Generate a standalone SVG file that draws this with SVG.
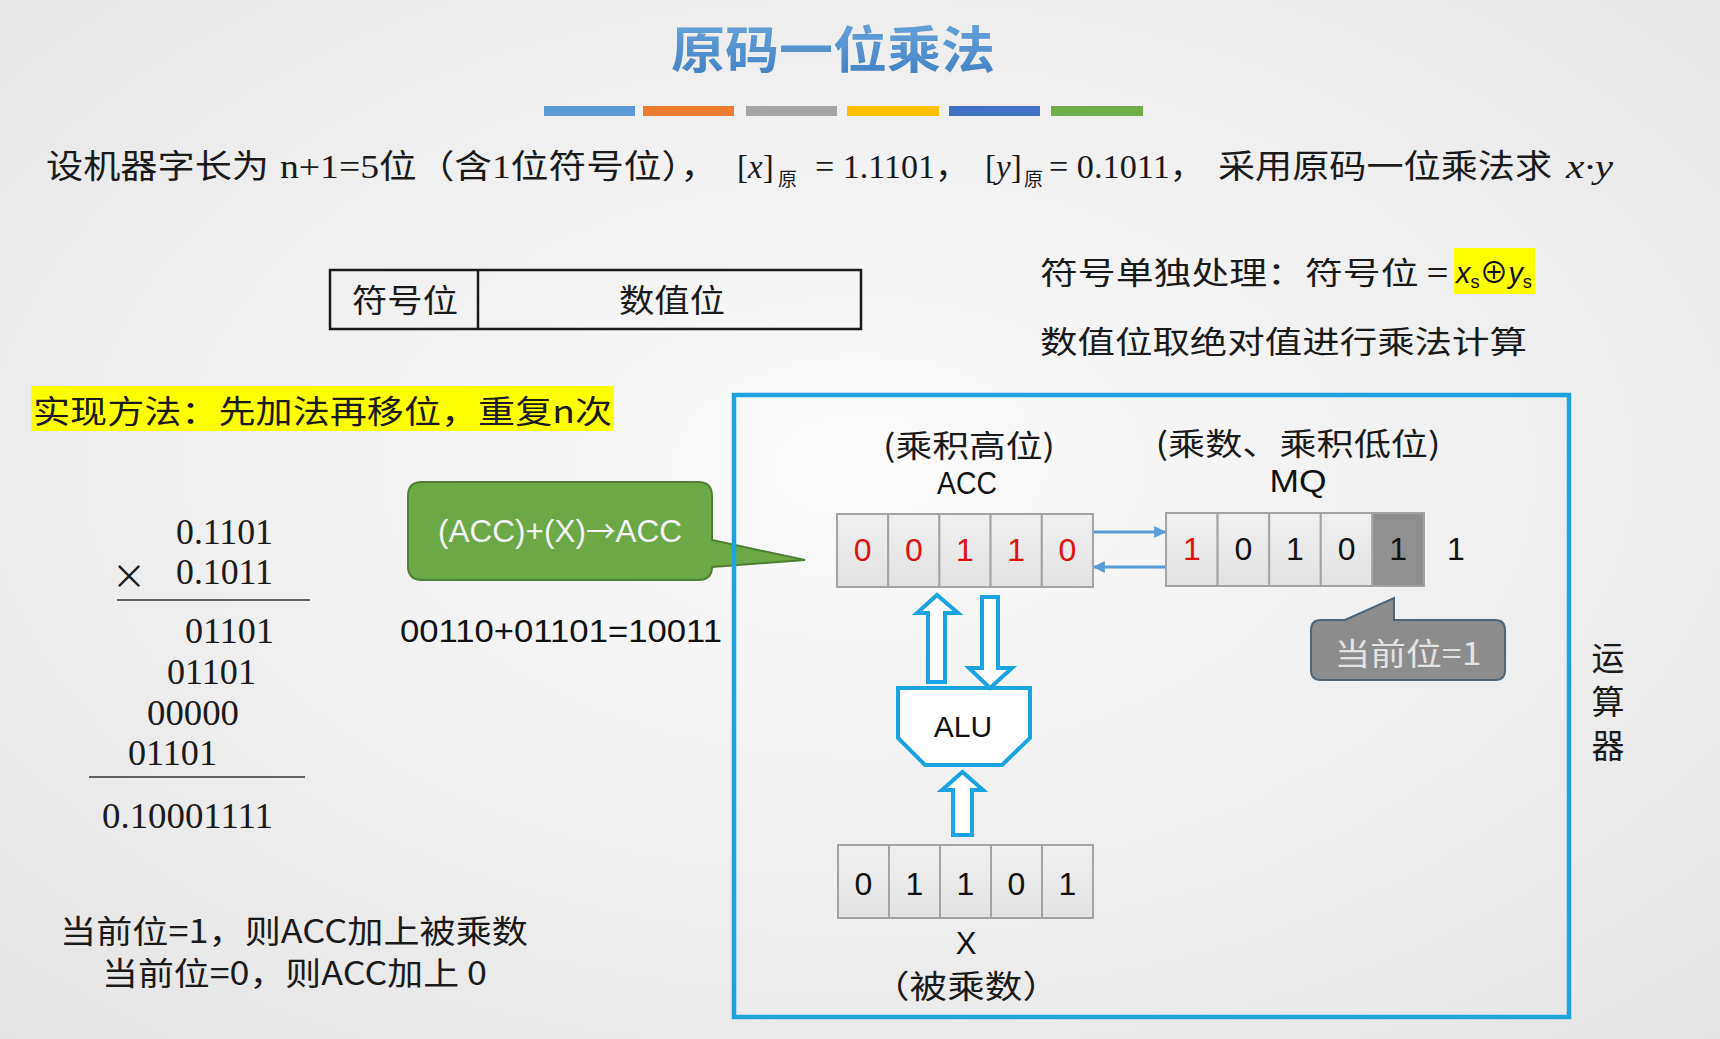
<svg xmlns="http://www.w3.org/2000/svg" width="1720" height="1039" viewBox="0 0 1720 1039">
<defs>
<radialGradient id="bg" cx="50%" cy="45%" r="75%">
<stop offset="0" stop-color="#fbfbfb"/>
<stop offset="1" stop-color="#e4e4e4"/>
</radialGradient>
<linearGradient id="titleg" x1="0" y1="0" x2="0" y2="1">
<stop offset="0" stop-color="#6ea9de"/>
<stop offset="1" stop-color="#3f7fc2"/>
</linearGradient>
<linearGradient id="cellg" x1="0" y1="0" x2="0" y2="1">
<stop offset="0" stop-color="#f0f0f0"/>
<stop offset="1" stop-color="#e2e2e2"/>
</linearGradient>
<marker id="ah" viewBox="0 0 10 10" refX="9" refY="5" markerWidth="4" markerHeight="4" orient="auto-start-reverse">
<path d="M0,0 L10,5 L0,10 Z" fill="#5b9bd5"/>
</marker>
<style>
.serif{font-family:"Liberation Serif","Noto Sans CJK SC",serif;fill:#1a1a1a}
.sans{font-family:"Liberation Sans","Noto Sans CJK SC",sans-serif;fill:#111}
.cjk{font-family:"Noto Sans CJK SC","Liberation Sans",sans-serif;fill:#1a1a1a}
.cell{fill:url(#cellg);stroke:#a3a3a3;stroke-width:2}
.dark{fill:#8f8f8f;stroke:#a3a3a3;stroke-width:2}
.dig{font-family:"Liberation Sans","Noto Sans CJK SC",sans-serif;font-size:32px;text-anchor:middle}
.red{fill:#e01010}
.blk{fill:#111}
.hollow{fill:#ffffff;stroke:#1aa3e0;stroke-width:4;stroke-linejoin:miter}
.conn{stroke:#5b9bd5;stroke-width:3;fill:none;marker-end:url(#ah)}
.rule{stroke:#333;stroke-width:1.6}
</style>
</defs>
<rect x="0" y="0" width="1720" height="1039" fill="url(#bg)"/>

<g id="title">
<text x="833" y="68" text-anchor="middle" font-family="Noto Sans CJK SC, sans-serif" font-weight="700" font-size="50" fill="url(#titleg)" textLength="324" lengthAdjust="spacingAndGlyphs">原码一位乘法</text>
<rect x="544" y="106" width="91" height="10" fill="#5b9bd5"/>
<rect x="643" y="106" width="91" height="10" fill="#ed7d31"/>
<rect x="746" y="106" width="91" height="10" fill="#a5a5a5"/>
<rect x="847" y="106" width="92" height="10" fill="#ffc000"/>
<rect x="949" y="106" width="91" height="10" fill="#4472c4"/>
<rect x="1051" y="106" width="92" height="10" fill="#70ad47"/>
</g>

<g id="problem">
<text class="cjk" x="46" y="178" font-size="33" textLength="223" lengthAdjust="spacingAndGlyphs">设机器字长为</text>
<text class="serif" x="280" y="178" font-size="33" textLength="438" lengthAdjust="spacingAndGlyphs">n+1=5位（含1位符号位），</text>
<text class="serif" x="737" y="178" font-size="33">[<tspan font-style="italic">x</tspan>]</text>
<text class="cjk" x="778" y="186" font-size="19">原</text>
<text class="serif" x="815" y="178" font-size="33" textLength="154" lengthAdjust="spacingAndGlyphs">= 1.1101，</text>
<text class="serif" x="985" y="178" font-size="33">[<tspan font-style="italic">y</tspan>]</text>
<text class="cjk" x="1024" y="186" font-size="19">原</text>
<text class="serif" x="1049" y="178" font-size="33" textLength="155" lengthAdjust="spacingAndGlyphs">= 0.1011，</text>
<text class="cjk" x="1218" y="178" font-size="33" textLength="334" lengthAdjust="spacingAndGlyphs">采用原码一位乘法求</text>
<text class="serif" x="1566" y="178" font-size="33" font-style="italic" textLength="47" lengthAdjust="spacingAndGlyphs">x·y</text>
</g>

<g id="format-box">
<rect x="330" y="270" width="531" height="59" fill="none" stroke="#1a1a1a" stroke-width="2.5"/>
<line x1="478" y1="270" x2="478" y2="329" stroke="#1a1a1a" stroke-width="2.5"/>
<text class="cjk" x="405" y="312" font-size="32" text-anchor="middle" textLength="106" lengthAdjust="spacingAndGlyphs">符号位</text>
<text class="cjk" x="672" y="312" font-size="32" text-anchor="middle" textLength="106" lengthAdjust="spacingAndGlyphs">数值位</text>
</g>

<g id="sign-note">
<rect x="1454" y="248" width="81" height="46" fill="#ffff00"/>
<text class="cjk" x="1040" y="284" font-size="31" textLength="408" lengthAdjust="spacingAndGlyphs">符号单独处理：符号位 =</text>
<text class="sans" x="1456" y="283" font-size="30" textLength="76" lengthAdjust="spacingAndGlyphs"><tspan font-style="italic">x</tspan><tspan font-size="19" dy="5">s</tspan><tspan dy="-5">⊕</tspan><tspan font-style="italic">y</tspan><tspan font-size="19" dy="5">s</tspan></text>
<text class="cjk" x="1040" y="353" font-size="31" textLength="487" lengthAdjust="spacingAndGlyphs">数值位取绝对值进行乘法计算</text>
</g>

<g id="method">
<rect x="31" y="386" width="583" height="45" fill="#ffff00"/>
<text class="cjk" x="33" y="423" font-size="32" textLength="579" lengthAdjust="spacingAndGlyphs">实现方法：先加法再移位，重复n次</text>
</g>

<g id="long-multiplication">
<text class="serif" x="176" y="544" font-size="36" textLength="97" lengthAdjust="spacingAndGlyphs">0.1101</text>
<text class="cjk" x="112" y="589" font-size="34" fill="#222">×</text>
<text class="serif" x="176" y="584" font-size="36" textLength="97" lengthAdjust="spacingAndGlyphs">0.1011</text>
<line class="rule" x1="117" y1="600" x2="310" y2="600"/>
<text class="serif" x="185" y="643" font-size="36" textLength="89" lengthAdjust="spacingAndGlyphs">01101</text>
<text class="serif" x="167" y="684" font-size="36" textLength="89" lengthAdjust="spacingAndGlyphs">01101</text>
<text class="serif" x="147" y="725" font-size="36" textLength="92" lengthAdjust="spacingAndGlyphs">00000</text>
<text class="serif" x="128" y="765" font-size="36" textLength="89" lengthAdjust="spacingAndGlyphs">01101</text>
<line class="rule" x1="89" y1="777" x2="305" y2="777"/>
<text class="serif" x="102" y="828" font-size="36" textLength="171" lengthAdjust="spacingAndGlyphs">0.10001111</text>
</g>

<g id="acc-callout">
<path d="M422,482 H698 Q712,482 712,496 V540 L805,560 L712,567 Q712,580 698,580 H422 Q408,580 408,566 V496 Q408,482 422,482 Z" fill="#6aa945" stroke="#4f7f34" stroke-width="2"/>
<text class="sans" x="560" y="542" font-size="32" text-anchor="middle" style="fill:#f4f4f4" textLength="244" lengthAdjust="spacingAndGlyphs">(ACC)+(X)<tspan font-family="Noto Sans CJK SC, sans-serif" font-size="30">→</tspan>ACC</text>
</g>

<g id="sum-note">
<text class="sans" x="400" y="642" font-size="32" textLength="322" lengthAdjust="spacingAndGlyphs">00110+01101=10011</text>
</g>

<g id="alu-unit">
<rect x="734" y="395" width="835" height="622" fill="none" stroke="#1fa3de" stroke-width="4.5"/>
<text class="cjk" x="1608" y="670" font-size="33" text-anchor="middle">运</text>
<text class="cjk" x="1608" y="714" font-size="33" text-anchor="middle">算</text>
<text class="cjk" x="1608" y="758" font-size="33" text-anchor="middle">器</text>
</g>

<g id="acc">
<text class="cjk" x="969" y="457" font-size="31" text-anchor="middle" textLength="172" lengthAdjust="spacingAndGlyphs">(乘积高位)</text>
<text class="sans" x="967" y="494" font-size="31" text-anchor="middle" textLength="60" lengthAdjust="spacingAndGlyphs">ACC</text>
<rect class="cell" x="837" y="514" width="51.2" height="73"/>
<rect class="cell" x="888.2" y="514" width="51.2" height="73"/>
<rect class="cell" x="939.4" y="514" width="51.2" height="73"/>
<rect class="cell" x="990.6" y="514" width="51.2" height="73"/>
<rect class="cell" x="1041.8" y="514" width="51.2" height="73"/>
<text class="dig red" x="862.6" y="561">0</text>
<text class="dig red" x="913.8" y="561">0</text>
<text class="dig red" x="965" y="561">1</text>
<text class="dig red" x="1016.2" y="561">1</text>
<text class="dig red" x="1067.4" y="561">0</text>
</g>

<g id="mq">
<text class="cjk" x="1298" y="455" font-size="31" text-anchor="middle" textLength="285" lengthAdjust="spacingAndGlyphs">(乘数、乘积低位)</text>
<text class="sans" x="1298" y="492" font-size="31" text-anchor="middle" textLength="57" lengthAdjust="spacingAndGlyphs">MQ</text>
<rect class="cell" x="1166" y="513" width="51.6" height="73"/>
<rect class="cell" x="1217.6" y="513" width="51.6" height="73"/>
<rect class="cell" x="1269.2" y="513" width="51.6" height="73"/>
<rect class="cell" x="1320.8" y="513" width="51.6" height="73"/>
<rect class="dark" x="1372.4" y="513" width="51.6" height="73"/>
<text class="dig red" x="1191.8" y="560">1</text>
<text class="dig blk" x="1243.4" y="560">0</text>
<text class="dig blk" x="1295" y="560">1</text>
<text class="dig blk" x="1346.6" y="560">0</text>
<text class="dig blk" x="1398.2" y="560">1</text>
<text class="dig blk" x="1456" y="560">1</text>
</g>

<g id="current-bit-callout">
<path d="M1321,620 H1345 L1394,598 V620 H1495 Q1505,620 1505,630 V670 Q1505,680 1495,680 H1321 Q1311,680 1311,670 V630 Q1311,620 1321,620 Z" fill="#8c8c8c" stroke="#4d6577" stroke-width="2"/>
<text class="cjk" x="1408" y="665" font-size="31" text-anchor="middle" style="fill:#e2e2e2" textLength="147" lengthAdjust="spacingAndGlyphs">当前位=1</text>
</g>

<g id="alu">
<path class="hollow" d="M898,688 H1030 V738 L1002,765 H925 L898,738 Z"/>
<text class="sans" x="963" y="737" font-size="30" text-anchor="middle">ALU</text>
</g>

<g id="x-register">
<rect class="cell" x="838" y="845" width="51" height="73"/>
<rect class="cell" x="889" y="845" width="51" height="73"/>
<rect class="cell" x="940" y="845" width="51" height="73"/>
<rect class="cell" x="991" y="845" width="51" height="73"/>
<rect class="cell" x="1042" y="845" width="51" height="73"/>
<text class="dig blk" x="863.5" y="895">0</text>
<text class="dig blk" x="914.5" y="895">1</text>
<text class="dig blk" x="965.5" y="895">1</text>
<text class="dig blk" x="1016.5" y="895">0</text>
<text class="dig blk" x="1067.5" y="895">1</text>
<text class="sans" x="966" y="954" font-size="31" text-anchor="middle">X</text>
<text class="cjk" x="966" y="998" font-size="32" text-anchor="middle" textLength="188" lengthAdjust="spacingAndGlyphs">（被乘数）</text>
</g>

<g id="rules-note">
<text class="cjk" x="60" y="943" font-size="32" textLength="468" lengthAdjust="spacingAndGlyphs">当前位=1，则ACC加上被乘数</text>
<text class="cjk" x="102" y="985" font-size="32" textLength="385" lengthAdjust="spacingAndGlyphs">当前位=0，则ACC加上 0</text>
</g>

<g id="connectors">
<line class="conn" x1="1094" y1="532" x2="1165" y2="532"/>
<line class="conn" x1="1165" y1="567" x2="1094" y2="567"/>
<path class="hollow" d="M928,682 V613 H917 L937,595 L958,613 H945 V682 Z"/>
<path class="hollow" d="M982,597 H998 V668 H1012 L990,688 L969,668 H982 Z"/>
<path class="hollow" d="M953,835 V790 H942 L962.5,772 L983,790 H972 V835 Z"/>
</g>
</svg>
